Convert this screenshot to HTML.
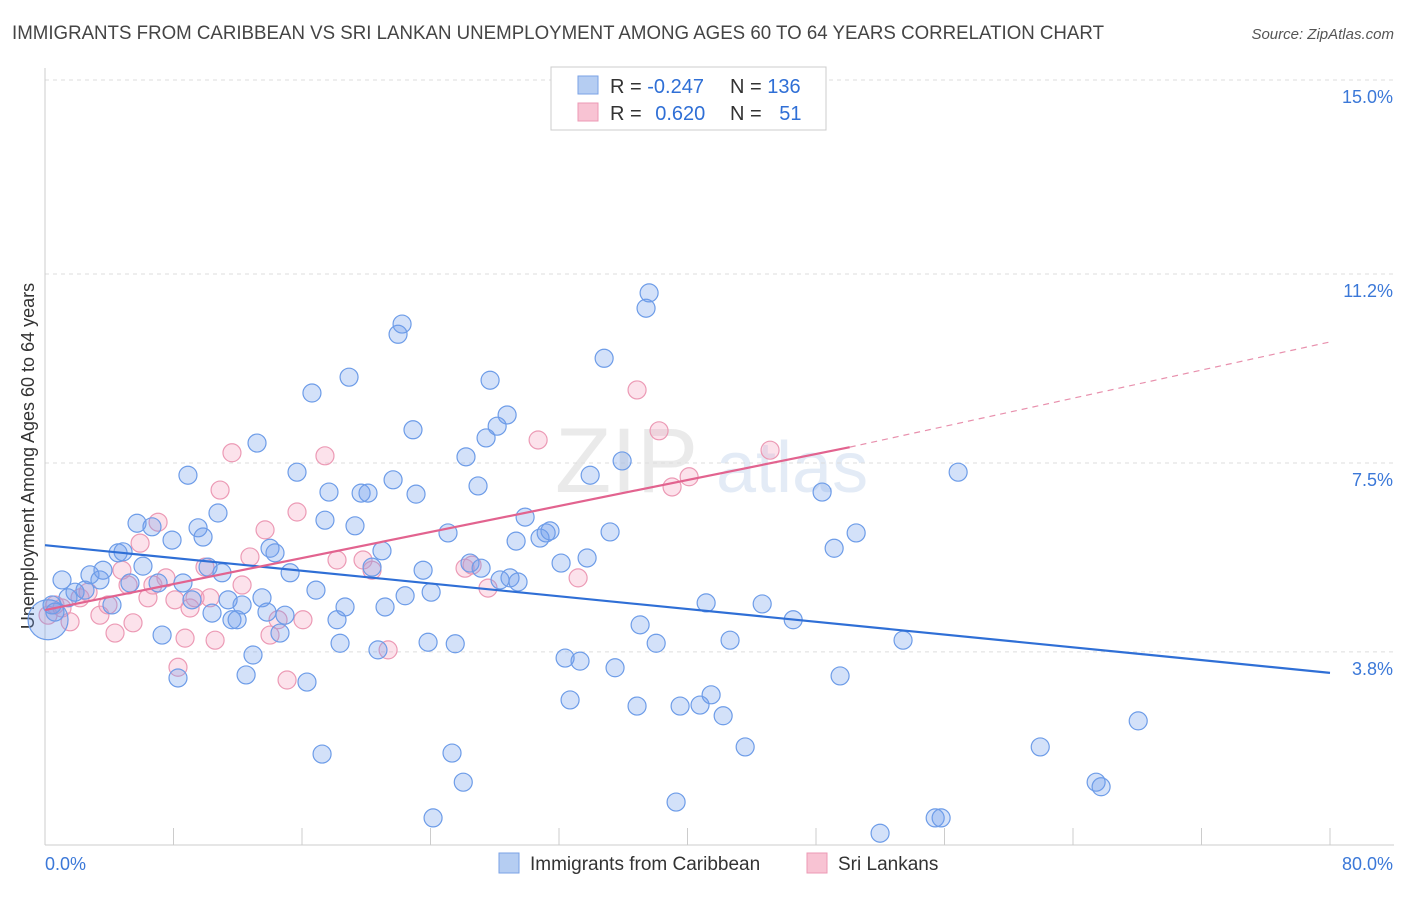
<!DOCTYPE html>
<html><head><meta charset="utf-8"><style>
body{margin:0;background:#fff;font-family:"Liberation Sans",sans-serif;}
svg text{font-family:"Liberation Sans",sans-serif;}
</style></head><body>
<svg id="chart" width="1406" height="892" viewBox="0 0 1406 892" xmlns="http://www.w3.org/2000/svg">
<text x="12" y="39" font-size="19" fill="#444" textLength="1092" lengthAdjust="spacingAndGlyphs">IMMIGRANTS FROM CARIBBEAN VS SRI LANKAN UNEMPLOYMENT AMONG AGES 60 TO 64 YEARS CORRELATION CHART</text>
<text x="1394" y="39" font-size="15" fill="#555" text-anchor="end" font-style="italic">Source: ZipAtlas.com</text>
<g>
<text x="555" y="492" font-size="92" fill="#ddd" font-family="Liberation Serif" opacity="0.6">ZIP</text>
<text x="716" y="492" font-size="72" fill="#c8d8ee" opacity="0.5">atlas</text>
</g>
<g id="grid"></g><g id="axes"></g><g id="marks"></g>
<g>
<rect x="551" y="67" width="275" height="63" fill="#fff" stroke="#ccc"/>
<rect x="578" y="76" width="20" height="18" fill="#b5cdf2" stroke="#7aa2e6"/>
<rect x="578" y="103" width="20" height="18" fill="#f8c3d3" stroke="#ec9ab5"/>
<text x="610" y="93" font-size="20" fill="#333">R = <tspan fill="#2f6fd6">-0.247</tspan></text>
<text x="730" y="93" font-size="20" fill="#333">N = <tspan fill="#2f6fd6">136</tspan></text>
<text x="610" y="120" font-size="20" fill="#333">R = <tspan fill="#2f6fd6" dx="8">0.620</tspan></text>
<text x="730" y="120" font-size="20" fill="#333">N = <tspan fill="#2f6fd6" dx="12">51</tspan></text>
</g>
<g>
<rect x="499" y="853" width="20" height="20" fill="#b5cdf2" stroke="#7aa2e6"/>
<text x="530" y="870" font-size="19" fill="#333">Immigrants from Caribbean</text>
<rect x="807" y="853" width="20" height="20" fill="#f8c3d3" stroke="#ec9ab5"/>
<text x="838" y="870" font-size="19" fill="#333">Sri Lankans</text>
</g>
</svg>
<script>
const yTicks=[3.8,7.5,11.2,15.0];
const yTickLabels=["3.8%","7.5%","11.2%","15.0%"];
const xTicks=[0,8,16,24,32,40,48,56,64,72,80];
const blueX=[1.06,1.87,2.49,2.80,3.42,3.61,4.17,4.55,4.86,5.29,5.73,6.10,6.66,7.04,7.29,7.91,8.28,8.59,8.90,9.15,9.53,9.84,10.15,10.40,10.77,11.02,11.40,11.64,11.96,12.27,12.52,12.95,13.20,13.51,13.82,14.01,14.32,14.63,14.94,15.26,15.69,16.31,16.62,16.87,17.25,17.43,17.68,18.18,18.37,18.68,18.93,19.30,19.68,20.11,20.36,20.73,20.98,21.17,21.67,21.98,22.23,22.42,22.91,23.10,23.54,23.85,24.04,24.16,25.09,25.34,25.54,26.04,26.21,26.46,26.96,27.15,27.46,27.71,28.15,28.33,28.77,28.95,29.45,29.33,29.89,30.82,31.20,31.44,32.13,32.38,32.69,33.31,33.75,33.94,34.81,35.18,35.49,35.93,36.86,37.05,37.42,37.61,38.05,39.29,39.54,40.78,41.16,41.47,42.22,42.65,43.59,44.65,46.58,48.38,49.13,49.50,50.50,51.99,53.42,55.42,55.79,56.85,61.96,65.44,65.75,68.06,0.44,0.62,1.43];
const blueY=[5.21,4.97,5.01,5.31,5.21,5.40,4.72,5.74,5.76,5.15,6.32,5.48,6.25,5.15,4.13,5.99,3.29,5.15,7.26,4.82,6.23,6.05,5.46,4.56,6.52,5.35,4.82,4.43,4.43,4.72,3.35,3.74,7.89,4.86,4.58,5.83,5.74,4.17,4.52,5.35,7.32,3.21,8.87,5.01,1.80,6.38,6.93,4.43,3.97,4.68,9.18,6.27,6.91,6.91,5.46,3.84,5.78,4.68,7.17,10.02,10.22,4.90,8.15,6.89,5.40,3.99,4.97,0.55,6.13,1.82,3.96,1.25,7.62,5.54,7.05,5.44,7.99,9.12,8.22,5.21,8.44,5.25,5.17,5.97,6.44,6.03,6.13,6.17,5.54,3.68,2.86,3.62,5.64,7.26,9.55,6.15,3.49,7.54,2.74,4.33,10.53,10.83,3.97,0.86,2.74,2.76,4.76,2.96,2.55,4.03,1.94,4.74,4.43,6.93,5.83,3.33,6.13,0.25,4.03,0.55,0.55,7.32,1.94,1.25,1.16,2.45,4.72,4.58,4.86];
const pinkX=[0.19,0.62,1.06,1.56,2.18,2.68,3.42,3.92,4.36,4.79,5.17,5.48,5.92,6.41,6.72,7.04,7.53,8.09,8.28,8.72,9.03,9.34,9.96,10.27,10.59,10.90,11.64,12.27,12.76,13.70,14.01,14.51,15.07,15.69,16.06,17.43,18.18,19.80,20.36,21.36,26.15,26.59,27.58,30.70,33.19,36.86,38.23,39.04,40.10,45.14];
const pinkY=[4.52,4.72,4.66,4.39,4.86,4.97,4.52,4.72,4.17,5.40,5.11,4.37,5.93,4.86,5.11,6.34,5.25,4.82,3.50,4.07,4.66,4.86,5.46,4.86,4.03,6.97,7.70,5.11,5.66,6.19,4.13,4.43,3.25,6.54,4.43,7.64,5.60,5.60,5.40,3.84,5.44,5.50,5.05,7.95,5.25,8.93,8.13,7.03,7.23,7.75];
const bigX=[0.19], bigY=[4.43];
const blueTrend=[5.89,3.39];
const pinkTrend=[4.62,7.81,9.87];
const pinkSolidEnd=50.1;
const NS='http://www.w3.org/2000/svg';
const X0=45,X1=1330,Y0=846,PPY=51.07;
const sx=v=>X0+(v/80)*(X1-X0);
const sy=v=>Y0-v*PPY;
function mk(tag,attrs,parent){const e=document.createElementNS(NS,tag);for(const k in attrs)e.setAttribute(k,attrs[k]);parent.appendChild(e);return e;}
const grid=document.getElementById('grid'),axes=document.getElementById('axes'),marks=document.getElementById('marks');
yTicks.forEach((t,i)=>{
 const l=mk('line',{x1:X0,x2:1394,y1:sy(t),y2:sy(t),stroke:'#ddd','stroke-dasharray':'4,4'},grid);
 
 
 const tx=mk('text',{x:1393,y:sy(t)+23,'font-size':18,fill:'#3b78d8','text-anchor':'end'},axes);
 tx.textContent=yTickLabels[i];
 
 
});
const ax=mk('line',{x1:X0,x2:1394,y1:845,y2:845,stroke:'#ccc'},axes);


const ay=mk('line',{x1:X0,x2:X0,y1:68,y2:845,stroke:'#ccc'},axes);


xTicks.forEach(t=>{
 const l=mk('line',{x1:sx(t),x2:sx(t),y1:828,y2:845,stroke:'#ccc'},axes);
 
 
});
const xl=mk('text',{x:45,y:870,'font-size':18,fill:'#3b78d8'},axes);xl.textContent='0.0%';


const xr=mk('text',{x:1393,y:870,'font-size':18,fill:'#3b78d8','text-anchor':'end'},axes);xr.textContent='80.0%';


const yt=mk('text',{x:0,y:0,'font-size':18,fill:'#333','text-anchor':'middle',transform:'translate(34,456) rotate(-90)'},axes);yt.textContent='Unemployment Among Ages 60 to 64 years';


function dots(xs,ys,fill,stroke,name,r){xs.forEach((v,i)=>{
 const c=mk('circle',{cx:sx(v),cy:sy(ys[i]),r:r,fill:fill,stroke:stroke,'stroke-width':1.2},marks);
 
 
});}
dots(pinkX,pinkY,'rgba(244,160,190,0.3)','#ec9ab5','sri-lankan-point',9);
dots(blueX,blueY,'rgba(110,155,235,0.3)','#6d9ce8','caribbean-point',9);
dots(bigX,bigY,'rgba(110,155,235,0.3)','#6d9ce8','caribbean-point',20);
const bl=mk('line',{x1:sx(0),y1:sy(blueTrend[0]),x2:sx(80),y2:sy(blueTrend[1]),stroke:'#2f6fd6','stroke-width':2.2},marks);


const pl=mk('line',{x1:sx(0),y1:sy(pinkTrend[0]),x2:sx(pinkSolidEnd),y2:sy(pinkTrend[1]),stroke:'#e2638f','stroke-width':2.2},marks);


const pd=mk('line',{x1:sx(pinkSolidEnd),y1:sy(pinkTrend[1]),x2:sx(80),y2:sy(pinkTrend[2]),stroke:'#e890ad','stroke-width':1.2,'stroke-dasharray':'6,5'},marks);


</script>
</body></html>
